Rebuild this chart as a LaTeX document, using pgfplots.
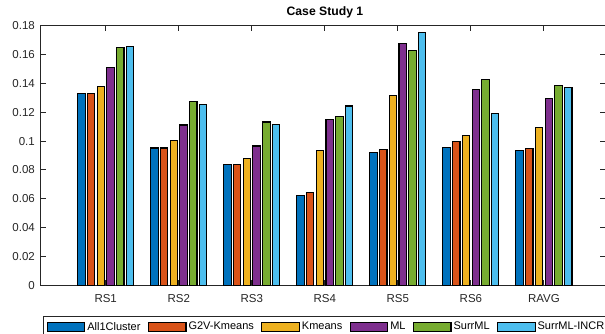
\documentclass[border=0pt]{standalone}
\usepackage{pgfplots}
\pgfplotsset{compat=1.18}
\usepackage{fontspec}
\setmainfont{Liberation Sans}
\definecolor{c1}{rgb}{0,0.447,0.741}
\definecolor{c2}{rgb}{0.85,0.325,0.098}
\definecolor{c3}{rgb}{0.929,0.694,0.125}
\definecolor{c4}{rgb}{0.494,0.184,0.556}
\definecolor{c5}{rgb}{0.466,0.674,0.188}
\definecolor{c6}{rgb}{0.301,0.745,0.933}
\definecolor{axgray}{rgb}{0.15,0.15,0.15}
\pgfplotsset{mybar/.style={ybar, bar width=7.4pt, draw=black, line width=1.1pt, fill=#1,
  legend image code/.code={\draw[##1] (0pt,-4.6pt) rectangle (37.5pt,4.6pt);}}}
\begin{document}
\begin{tikzpicture}[x=1pt,y=1pt]
\useasboundingbox (0,0) rectangle (605,333);
\clip (0,0) rectangle (605,333);
\begin{axis}[
  at={(40.7pt,47.5pt)}, anchor=south west,
  scale only axis, width=565.3pt, height=260pt,
  xmin=0.11, xmax=7.85, ymin=0, ymax=0.18,
  xtick={1,2,3,4,5,6,7},
  xticklabels={RS1,RS2,RS3,RS4,RS5,RS6,RAVG},
  ytick={0,0.02,0.04,0.06,0.08,0.1,0.12,0.14,0.16,0.18},
  yticklabels={0,0.02,0.04,0.06,0.08,0.1,0.12,0.14,0.16,0.18},
  tick align=inside, major tick length=5.6pt,
  axis line style={axgray, line width=0.9pt},
  major tick style={axgray, line width=0.9pt},
  font=\fontsize{11.5}{13}\selectfont,
  xticklabel style={anchor=base, inner sep=0pt, yshift=-16.5pt, text=black!85},
  yticklabel style={anchor=east, inner sep=0pt, xshift=-5.7pt, text=black!85},
  title={Case Study 1},
  title style={at={(0.5,1)}, anchor=base, inner sep=0pt, yshift=4.4pt, xshift=1.6pt, font=\fontsize{12.2}{14}\selectfont\bfseries},
  legend columns=6,
  legend cell align=left,
  legend style={at={(0.0046,-0.116)}, anchor=north west, draw=axgray, line width=0.9pt,
    font=\fontsize{11}{13}\selectfont, inner xsep=3pt, inner ysep=4pt,
    /tikz/every even column/.append style={column sep=5.4pt}},
]
\addplot[mybar=c1, bar shift=-24.33pt] coordinates {(1,0.1327) (2,0.0952) (3,0.0835) (4,0.0625) (5,0.0918) (6,0.0957) (7,0.0936)};
\addplot[mybar=c2, bar shift=-14.6pt] coordinates {(1,0.1327) (2,0.0952) (3,0.0835) (4,0.0641) (5,0.0943) (6,0.0999) (7,0.0950)};
\addplot[mybar=c3, bar shift=-4.865pt] coordinates {(1,0.1377) (2,0.1001) (3,0.0881) (4,0.0936) (5,0.1315) (6,0.1036) (7,0.1093)};
\addplot[mybar=c4, bar shift=4.865pt] coordinates {(1,0.1512) (2,0.1111) (3,0.0966) (4,0.1151) (5,0.1675) (6,0.1358) (7,0.1296)};
\addplot[mybar=c5, bar shift=14.6pt] coordinates {(1,0.1647) (2,0.1271) (3,0.1132) (4,0.1170) (5,0.1629) (6,0.1426) (7,0.1382)};
\addplot[mybar=c6, bar shift=24.33pt] coordinates {(1,0.1653) (2,0.1255) (3,0.1114) (4,0.1243) (5,0.1751) (6,0.1190) (7,0.1368)};
\legend{All1Cluster,G2V-Kmeans,Kmeans,ML,SurrML,SurrML-INCR}
\end{axis}
\end{tikzpicture}
\end{document}
